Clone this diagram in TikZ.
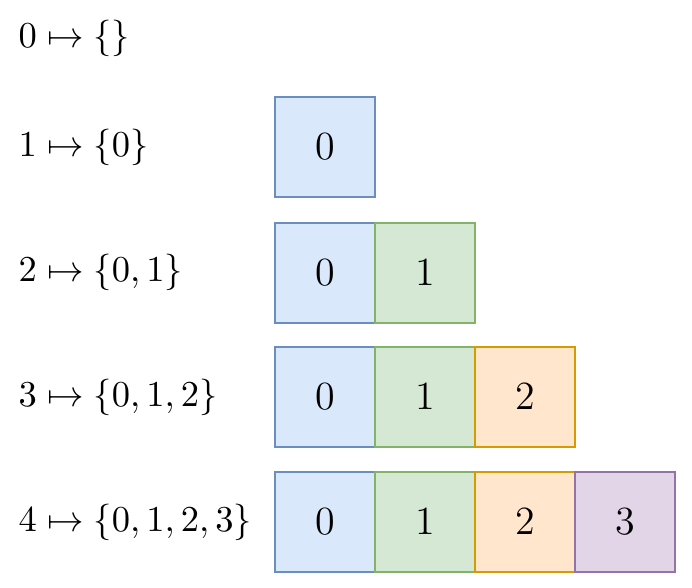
\documentclass[tikz,border=0pt]{standalone}
\usepackage{amsmath}
\definecolor{bfill}{HTML}{DAE8FC}\definecolor{bline}{HTML}{6C8EBF}
\definecolor{gfill}{HTML}{D5E8D4}\definecolor{gline}{HTML}{82B366}
\definecolor{ofill}{HTML}{FFE6CC}\definecolor{oline}{HTML}{D79B00}
\definecolor{pfill}{HTML}{E1D5E7}\definecolor{pline}{HTML}{9673A6}
\newcommand{\cellnum}[1]{$#1$\hspace{1.8pt}}
\begin{document}
\begin{tikzpicture}[x=0.3pt,y=-0.3pt,
  cell/.style={draw, line width=0.6pt, minimum width=30pt, minimum height=30pt, inner sep=0pt, font=\fontsize{11.6}{13}\selectfont},
  c0/.style={cell, fill=bfill, draw=bline},
  c1/.style={cell, fill=gfill, draw=gline},
  c2/.style={cell, fill=ofill, draw=oline},
  c3/.style={cell, fill=pfill, draw=pline},
  lab/.style={anchor=west, inner sep=0pt, font=\fontsize{10.8}{13}\selectfont}]
\useasboundingbox[fill=white] (0,0) rectangle (692,588);
\node[lab] (l0) at (18,38) {$0\mapsto\{\}$};
\node[lab] (l1) at (18,147) {$1\mapsto\{0\}$};
\node[lab] (l2) at (18,272) {$2\mapsto\{0,1\}$};
\node[lab] (l3) at (18,397) {$3\mapsto\{0,1,2\}$};
\node[lab] (l4) at (18,522) {$4\mapsto\{0,1,2,3\}$};
% row 1
\node[c0] (a0) at (325,147) {\cellnum{0}};
% row 2
\node[c0] (b0) at (325,273) {\cellnum{0}};
\node[c1] (b1) at (425,273) {\cellnum{1}};
% row 3
\node[c0] (d0) at (325,397) {\cellnum{0}};
\node[c1] (d1) at (425,397) {\cellnum{1}};
\node[c2] (d2) at (525,397) {\cellnum{2}};
% row 4
\node[c0] (e0) at (325,522) {\cellnum{0}};
\node[c1] (e1) at (425,522) {\cellnum{1}};
\node[c2] (e2) at (525,522) {\cellnum{2}};
\node[c3] (e3) at (625,522) {\cellnum{3}};
\end{tikzpicture}
\end{document}
